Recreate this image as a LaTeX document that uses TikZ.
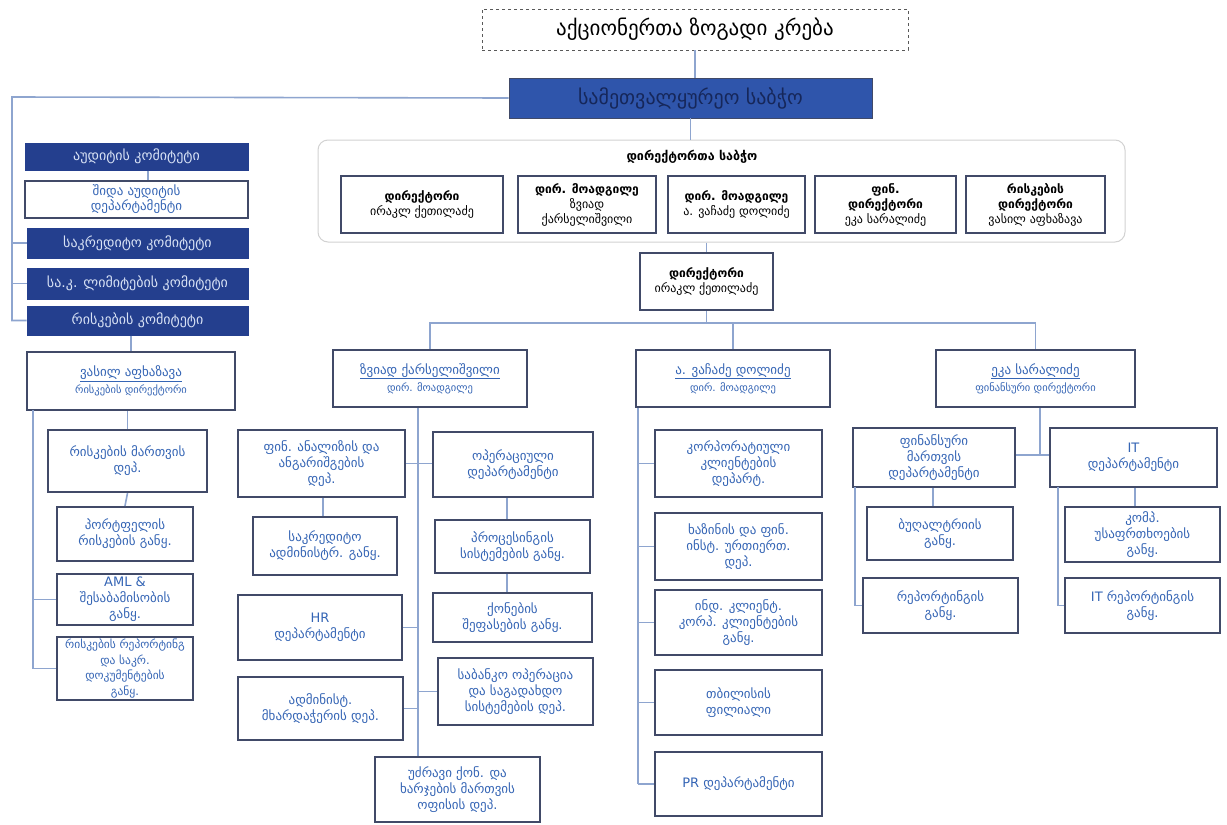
\documentclass[tikz,border=0pt]{standalone}
\usepackage{fontspec}
\setmainfont{DejaVu Sans}
\usetikzlibrary{calc}
\definecolor{boxc}{HTML}{414A68}
\definecolor{txtc}{HTML}{3565B5}
\definecolor{linec}{HTML}{8EA5CF}
\definecolor{navyc}{HTML}{243F8E}
\definecolor{boardc}{HTML}{2F55AB}
\definecolor{boardtxt}{HTML}{16275A}
\definecolor{navytxt}{HTML}{D8E2F5}
\begin{document}
\begin{tikzpicture}[x=1pt,y=-1pt,
  box/.style={draw=boxc, line width=2.2pt, fill=white, align=center, text=txtc, inner sep=1pt, font=\fontsize{13}{16}\selectfont},
  navybox/.style={draw=navyc, fill=navyc, line width=1pt, text=navytxt, align=center, inner sep=1pt, font=\fontsize{14}{16}\selectfont},
  dirbox/.style={box, text=black, font=\fontsize{12}{15}\selectfont},
  mgrbox/.style={box, font=\fontsize{13}{17}\selectfont},
  sub/.style={font=\fontsize{10.5}{13}\selectfont},
  conn/.style={draw=linec, line width=1.6pt},
  sz/.style 2 args={minimum width=#1pt, minimum height=#2pt},
]
\useasboundingbox[fill=white] (0,0) rectangle (1227,825);

% top
\node[draw=gray!70!black, dashed, line width=0.8pt, sz={426}{41}, font=\fontsize{21}{24}\selectfont] (title) at (695,29.5) {აქციონერთა ზოგადი კრება};
\node[draw=boxc, fill=boardc, line width=0.8pt, sz={363}{40}, text=boardtxt, font=\fontsize{20}{23}\selectfont] (board) at (690.5,98) {სამეთვალყურეო საბჭო};

% left committees
\node[navybox, sz={223}{27}] (audit) at (136.5,156.5) {აუდიტის კომიტეტი};
\node[box, line width=1.4pt, sz={223}{37}, font=\fontsize{13}{15}\selectfont] (intaudit) at (136.5,199.5) {შიდა აუდიტის\\დეპარტამენტი};
\node[navybox, sz={221}{30}] (credit) at (137.5,243) {საკრედიტო კომიტეტი};
\node[navybox, sz={221}{31}] (limits) at (137.5,283.5) {სა.კ. ლიმიტების კომიტეტი};
\node[navybox, sz={221}{29}] (riskc) at (137.5,320.5) {რისკების კომიტეტი};

\node[mgrbox, sz={208}{58}] (vasil) at (131,381) {\underline{ვასილ აფხაზავა}\\{\fontsize{10.5}{13}\selectfont რისკების დირექტორი}};
\node[box, sz={159}{62}] (riskdep) at (127.5,461) {რისკების მართვის\\დეპ.};
\node[box, sz={136}{54}] (portf) at (125,534) {პორტფელის\\რისკების განყ.};
\node[box, sz={136}{51}] (aml) at (125,599.5) {AML \&\\შესაბამისობის\\განყ.};
\node[box, sz={136}{63}, font=\fontsize{11.5}{15.5}\selectfont] (riskrep) at (125,668.5) {რისკების რეპორტინგ\\და საკრ.\\დოკუმენტების\\განყ.};

% directors board
\node[draw=gray!35, rounded corners=10pt, line width=1pt, sz={807}{102}] (dirs) at (721.5,191) {};
\node[font=\bfseries\fontsize{12.5}{14}\selectfont] (dirsT) at (692,157) {დირექტორთა საბჭო};
\node[dirbox, sz={162}{57}] (d1) at (422,204.5) {\textbf{დირექტორი}\\ირაკლ ქეთილაძე};
\node[dirbox, sz={138}{57}] (d2) at (587,204.5) {\textbf{დირ. მოადგილე}\\ზვიად\\ქარსელიშვილი};
\node[dirbox, sz={137}{57}] (d3) at (736.5,204.5) {\textbf{დირ. მოადგილე}\\ა. ვაჩაძე დოლიძე};
\node[dirbox, sz={141}{57}] (d4) at (885.5,204.5) {\textbf{ფინ.}\\\textbf{დირექტორი}\\ეკა სარალიძე};
\node[dirbox, sz={139}{57}] (d5) at (1035.5,204.5) {\textbf{რისკების}\\\textbf{დირექტორი}\\ვასილ აფხაზავა};

% director
\node[dirbox, sz={133}{57}] (director) at (706.5,281.5) {\textbf{დირექტორი}\\ირაკლ ქეთილაძე};

% managers
\node[mgrbox, sz={194}{57}] (m1) at (430,378.5) {\underline{ზვიად ქარსელიშვილი}\\{\fontsize{10.5}{13}\selectfont დირ. მოადგილე}};
\node[mgrbox, sz={194}{57}] (m2) at (733,378.5) {\underline{ა. ვაჩაძე დოლიძე}\\{\fontsize{10.5}{13}\selectfont დირ. მოადგილე}};
\node[mgrbox, sz={199}{57}] (m3) at (1035.5,378.5) {\underline{ეკა სარალიძე}\\{\fontsize{10.5}{13}\selectfont ფინანსური დირექტორი}};

% Zurab column
\node[box, sz={167}{67}] (z1) at (321.5,463.5) {ფინ. ანალიზის და\\ანგარიშგების\\დეპ.};
\node[box, sz={144}{58}] (z2) at (325,546) {საკრედიტო\\ადმინისტრ. განყ.};
\node[box, sz={164}{65}] (z3) at (320,627.5) {HR\\დეპარტამენტი};
\node[box, sz={165}{63}] (z4) at (320.5,708.5) {ადმინისტ.\\მხარდაჭერის დეპ.};
\node[box, sz={160}{65}] (z5) at (513,464.5) {ოპერაციული\\დეპარტამენტი};
\node[box, sz={155}{53}] (z6) at (512.5,546.5) {პროცესინგის\\სისტემების განყ.};
\node[box, sz={159}{49}] (z7) at (512.5,617.5) {ქონების\\შეფასების განყ.};
\node[box, sz={155}{67}] (z8) at (515.5,691.5) {საბანკო ოპერაცია\\და საგადახდო\\სისტემების დეპ.};
\node[box, sz={165}{65}] (z9) at (457.5,789.5) {უძრავი ქონ. და\\ხარჯების მართვის\\ოფისის დეპ.};

% A. column
\node[box, sz={167}{67}] (a1) at (738.5,463.5) {კორპორატიული\\კლიენტების\\დეპარტ.};
\node[box, sz={167}{67}] (a2) at (738.5,546.5) {ხაზინის და ფინ.\\ინსტ. ურთიერთ.\\დეპ.};
\node[box, sz={167}{65}] (a3) at (738.5,622.5) {ინდ. კლიენტ.\\კორპ. კლიენტების\\განყ.};
\node[box, sz={167}{65}] (a4) at (738.5,702.5) {თბილისის\\ფილიალი};
\node[box, sz={167}{64}] (a5) at (738.5,784) {PR დეპარტამენტი};

% Eka column
\node[box, sz={162}{59}] (e1) at (934,457.5) {ფინანსური\\მართვის\\დეპარტამენტი};
\node[box, sz={167}{59}] (e2) at (1133.5,457.5) {IT\\დეპარტამენტი};
\node[box, sz={146}{53}] (e3) at (940,533.5) {ბუღალტრიის\\განყ.};
\node[box, sz={155}{55}] (e4) at (1142.5,534.5) {კომპ.\\უსაფრთხოების\\განყ.};
\node[box, sz={155}{55}] (e5) at (940.5,605.5) {რეპორტინგის\\განყ.};
\node[box, sz={155}{55}] (e6) at (1142.5,605.5) {IT რეპორტინგის\\განყ.};

% coordinates
\coordinate (lt) at (12,97);
\coordinate (lb) at (12,320.5);
\coordinate (vt) at (33,410);
\coordinate (bus) at (706.5,323);
\coordinate (zt) at (418,407);
\coordinate (at) at (638,407);
\coordinate (et) at (1040,455);
\coordinate (ft) at (855,487);
\coordinate (it) at (1058,487);

% top connectors
\draw[conn] (title.south) -- (title.south |- board.north);
\draw[conn] (board.south) -- (board.south |- dirs.north);
\draw[conn] (board.west) -- (lt) -- (lb) -- (riskc.west);
\draw[conn] (lt |- credit.west) -- (credit.west);
\draw[conn] (lt |- limits.west) -- (limits.west);
\draw[conn] (audit.south -| 148,0) -- (intaudit.north -| 148,0);
\draw[conn] (riskc.south -| vasil.north) -- (vasil.north);
% risk column
\draw[conn] (vasil.south -| riskdep.north) -- (riskdep.north);
\draw[conn] (riskdep.south) -- (portf.north);
\draw[conn] (vt) -- (vt |- riskrep.west) -- (riskrep.west);
\draw[conn] (vt |- aml.west) -- (aml.west);
% director
\draw[conn] (dirs.south -| director.north) -- (director.north);
\draw[conn] (director.south) -- (bus);
\draw[conn] (m1.north) -- (m1.north |- bus) -- (m3.north |- bus) -- (m3.north);
\draw[conn] (m2.north |- bus) -- (m2.north);
% Zurab
\draw[conn] (m1.south -| zt) -- (z9.north -| zt);
\draw[conn] (z1.east) -- (z1.east -| zt);
\draw[conn] (z5.west |- z1.east) -- (z1.east -| zt);
\draw[conn] (z3.east) -- (z3.east -| zt);
\draw[conn] (z4.east) -- (z4.east -| zt);
\draw[conn] (z8.west) -- (z8.west -| zt);
\draw[conn] (z1.south -| 323,0) -- (z2.north -| 323,0);
\draw[conn] (z5.south -| 507,0) -- (z6.north -| 507,0);
\draw[conn] (z6.south -| 507,0) -- (z7.north -| 507,0);
% A.
\draw[conn] (m2.south -| at) -- (a5.west -| at);
\foreach \n in {a1,a2,a3,a4,a5} \draw[conn] (\n.west -| at) -- (\n.west);
% Eka
\draw[conn] (m3.south -| et) -- (et);
\draw[conn] (e1.east |- et) -- (e2.west |- et);
\draw[conn] (e1.south -| 933,0) -- (e3.north -| 933,0);
\draw[conn] (e2.south -| 1135,0) -- (e4.north -| 1135,0);
\draw[conn] (ft) -- (ft |- e5.west) -- (e5.west);
\draw[conn] (it) -- (it |- e6.west) -- (e6.west);
\end{tikzpicture}
\end{document}
